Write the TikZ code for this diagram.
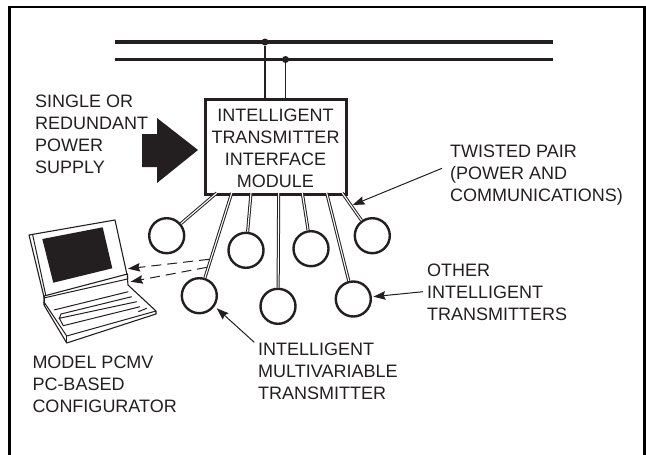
\documentclass[tikz,border=0pt]{standalone}
\usepackage{fontspec}
\setmainfont{Liberation Sans}
\usetikzlibrary{arrows.meta}
\definecolor{ink}{HTML}{231F20}
\tikzset{
  x=1pt,y=-1pt,
  bus/.style={line width=3.6pt,draw=ink},
  drop/.style={line width=1.6pt,draw=ink},
  junction/.style={circle,fill=ink,inner sep=0,minimum size=7pt},
  module/.style={draw=ink,line width=3pt,fill=white,inner sep=0,minimum width=141pt,minimum height=95pt,align=center,text=ink,font=\fontsize{18}{22}\selectfont},
  xmtr/.style={circle,draw=ink,line width=2.4pt,fill=white,inner sep=0,minimum size=35pt},
  pair/.style={draw=ink,line width=1pt,double=white,double distance=1.1pt},
  lbl/.style={anchor=north west,inner sep=0,align=left,text=ink,font=\fontsize{18}{22}\selectfont},
  leader/.style={draw=ink,line width=1pt,-{Stealth[length=12pt,width=8.5pt,inset=1.5pt]}},
  dashlead/.style={leader,dash pattern=on 10pt off 6pt},
  lap/.style={draw=ink,line width=1.1pt,line join=round,fill=white},
  keyline/.style={draw=ink,line width=1pt},
}
\begin{document}
\begin{tikzpicture}
\useasboundingbox (0,0) rectangle (646,455);
% frame
\draw[line width=2.6pt,black] (9.5,455) -- (9.5,7) -- (644.5,7) -- (644.5,455);
% bus
\coordinate (b1l) at (115,42); \coordinate (b1r) at (553,42);
\coordinate (b2l) at (115,59.5); \coordinate (b2r) at (553,59.5);
\draw[bus] (b1l) -- (b1r);
\draw[bus] (b2l) -- (b2r);
\node[module] (box) at (275.5,146.5) {\rule{0pt}{15.9pt}INTELLIGENT\\TRANSMITTER\\INTERFACE\\MODULE};
\node[junction] (j1) at (265,42) {};
\node[junction] (j2) at (285.5,59.5) {};
\draw[drop] (j1) -- (j1 |- box.north);
\draw[drop] (j2) -- (j2 |- box.north);
% power arrow
\fill[ink] (142,134) -- (157,134) -- (157,118) -- (198,150) -- (157,183) -- (157,167) -- (142,167) -- cycle;
% transmitters
\node[xmtr] (c1) at (166.7,235.7) {};
\node[xmtr] (c2) at (246,250.3) {};
\node[xmtr] (c3) at (311,248.7) {};
\node[xmtr] (c4) at (372.3,235.7) {};
\node[xmtr] (c5) at (199.3,295.7) {};
\node[xmtr] (c6) at (278,306.3) {};
\node[xmtr] (c7) at (353.3,299) {};
\coordinate (p1) at (216.7,193);
\coordinate (p5) at (231.7,193);
\coordinate (p2) at (251,193);
\coordinate (p6) at (278.7,193);
\coordinate (p3) at (302.3,193);
\coordinate (p7) at (326.7,193);
\coordinate (p4) at (342.3,193);
\foreach \a/\b in {p1/c1,p5/c5,p2/c2,p6/c6,p3/c3,p7/c7,p4/c4} \draw[pair] (\a) -- (\b);
% laptop
\draw[lap] (29,235) -- (115,220) -- (127.5,277) -- (127.5,279) -- (44,297) -- cycle;
\draw[keyline] (32.5,234) -- (45.7,295);
\fill[ink] (42.3,239) -- (102.7,227.3) -- (112.3,268.3) -- (53.3,282.7) -- cycle;
\draw[lap] (44,296) -- (127.5,274) -- (127.5,279) -- (128,285) -- (156,311) -- (156,314) -- (66.7,343) -- (44,305) -- cycle;
\draw[keyline] (44,296) -- (44,305);
\draw[keyline] (45,297.7) -- (127.5,279);
\draw[keyline] (44,302) -- (66.7,336) -- (156,311);
\draw[keyline] (66.7,336) -- (66.7,343);
\draw[keyline] (54,310) -- (128.3,291.7);
\draw[keyline] (61,314) -- (131.7,296.7);
\draw[keyline] (61,314) -- (59.3,318.3) -- (136.7,301.7);
\draw[keyline] (59.3,318.3) -- (63.3,325.7) -- (140,306.7);
\draw[keyline] (138.3,311.7) -- (146.7,308.3);
% texts
\node[lbl] (supply) at (35,95) {SINGLE OR\\REDUNDANT\\POWER\\SUPPLY};
\node[lbl] (twist) at (450,144.3) {TWISTED PAIR\\(POWER AND\\COMMUNICATIONS)};
\node[lbl] (other) at (427,264) {OTHER\\INTELLIGENT\\TRANSMITTERS};
\node[lbl] (multi) at (258,342.3) {INTELLIGENT\\MULTIVARIABLE\\TRANSMITTER};
\node[lbl] (pcmv) at (32.3,356) {MODEL PCMV\\PC-BASED\\CONFIGURATOR};
% leaders
\coordinate (t1) at (442,168.3); \coordinate (t1e) at (352.7,205);
\coordinate (t2) at (423,291.7); \coordinate (t2e) at (373.3,296.7);
\coordinate (t3) at (254.3,342.3); \coordinate (t3e) at (216.7,308.3);
\draw[leader] (t1) -- (t1e);
\draw[leader] (t2) -- (t2e);
\draw[leader] (t3) -- (t3e);
\coordinate (d1) at (209,259.3); \coordinate (d1e) at (128,268.7);
\coordinate (d2) at (207,267.3); \coordinate (d2e) at (130.7,281.7);
\draw[dashlead] (d1) -- (d1e);
\draw[dashlead] (d2) -- (d2e);
\end{tikzpicture}
\end{document}
